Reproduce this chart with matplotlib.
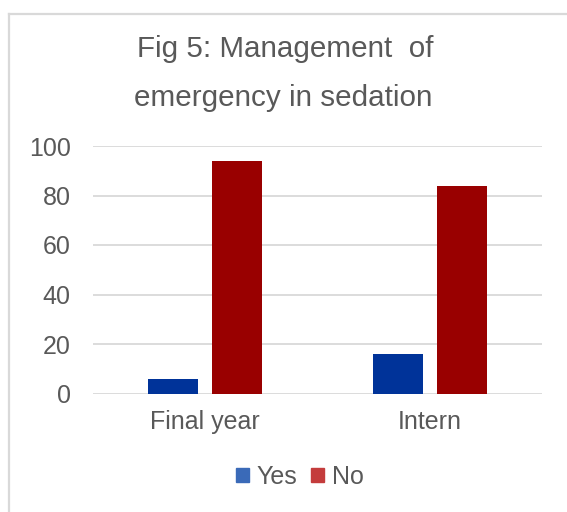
import matplotlib
matplotlib.use("Agg")
import matplotlib.pyplot as plt
import numpy as np
from matplotlib.lines import Line2D
from matplotlib.patches import Patch

categories = ["Final year", "Intern"]
yes_values = [6, 16]
no_values = [94, 84]
series_names = ["Yes", "No"]
yticks = [0, 20, 40, 60, 80, 100]
title_lines = ["Fig 5: Management  of", "emergency in sedation"]

plt.rcParams['font.family'] = ['Liberation Sans', 'DejaVu Sans']
txt = "#595959"
grid_c = "#d9d9d9"

fig = plt.figure(figsize=(5.67, 5.12), dpi=100)
ax = fig.add_axes([93/567, 118.5/512, 449/567, 247.5/512])

x = np.arange(len(categories))
off = 0.1425
w = 0.223
ax.bar(x - off, yes_values, w, color="#003399", zorder=3)
ax.bar(x + off, no_values, w, color="#990000", zorder=3)

ax.set_xlim(-0.5, len(categories) - 0.5)
ax.set_ylim(0, 100)
ax.set_yticks(yticks)
ax.set_xticks(x)
ax.set_xticklabels(categories)
ax.yaxis.grid(True, color=grid_c, lw=1.3, zorder=0)
ax.set_axisbelow(True)
for s in ax.spines.values():
    s.set_visible(False)
ax.tick_params(axis='both', length=0, colors=txt, labelsize=18)
ax.tick_params(axis='y', pad=16)
ax.tick_params(axis='x', pad=12)
for lab in ax.get_yticklabels() + ax.get_xticklabels():
    lab.set_clip_on(False)

# frame lines (left and top)
fig.add_artist(Line2D([8.5/567, 8.5/567], [0, 1 - 14/512], color="#d9d9d9", lw=1.6, transform=fig.transFigure))
fig.add_artist(Line2D([8.5/567, 1], [1 - 14/512, 1 - 14/512], color="#d9d9d9", lw=1.6, transform=fig.transFigure))

fig.text(285/567, 1 - 49/512, title_lines[0], ha="center", va="center", fontsize=21.3, color=txt)
fig.text(283/567, 1 - 98/512, title_lines[1], ha="center", va="center", fontsize=21.3, color=txt)

handles = [Patch(color="#3a6ab8"), Patch(color="#c43c3c")]
fig.legend(handles, series_names, loc="center", bbox_to_anchor=(300/567, 1 - 477/512),
           ncol=2, frameon=False, fontsize=18, labelcolor=txt,
           handlelength=0.52, handleheight=0.52, handletextpad=0.32, columnspacing=0.56)

fig.savefig("out.png", dpi=100)
